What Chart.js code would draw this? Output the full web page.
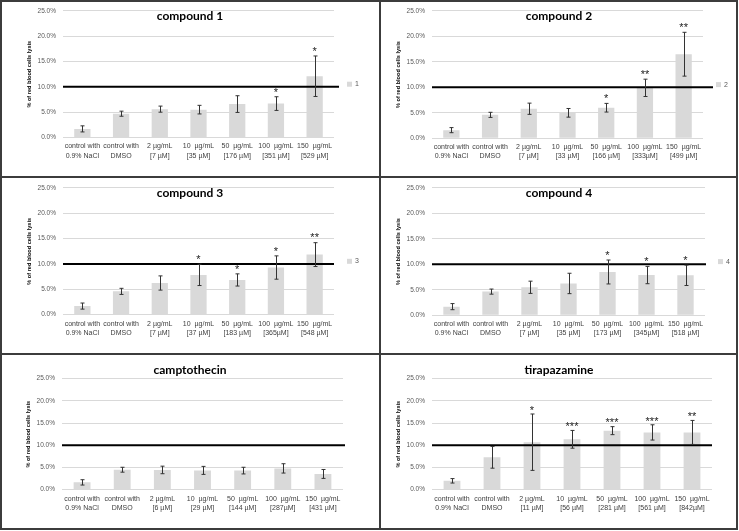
<!DOCTYPE html>
<html>
<head>
<meta charset="utf-8">
<script src="https://cdn.jsdelivr.net/npm/chart.js@4"></script>
<style>
    body { margin: 0; background: #fff; }
    #fig { position: relative; width: 739px; height: 531px; }
    .panel { position: absolute; }
    .line { position: absolute; background: #3c3c3c; }
</style>
</head>
<body>
<div id="fig"></div>
<script>
// data (values in % of red blood cells lysis)
const controls = [['control with', '0.9% NaCl'], ['control with', 'DMSO']];
const doses = ['2 µg/mL', '10  µg/mL', '50  µg/mL', '100  µg/mL', '150  µg/mL'];
const yTicks = [0, 5, 10, 15, 20, 25];
const threshold = 10;

const molar1 = ['[7 µM]', '[35 µM]', '[176 µM]', '[351 µM]', '[529 µM]'];
const mean1 = [1.7, 4.7, 5.6, 5.5, 6.6, 6.7, 12.1];
const err1 = [0.6, 0.5, 0.6, 0.85, 1.65, 1.35, 4.0];
const sig1 = ['', '', '', '', '', '*', '*'];

const molar2 = ['[7 µM]', '[33 µM]', '[166 µM]', '[333µM]', '[499 µM]'];
const mean2 = [1.6, 4.6, 5.8, 5.0, 6.0, 9.9, 16.5];
const err2 = [0.5, 0.5, 1.1, 0.85, 0.85, 1.7, 4.3];
const sig2 = ['', '', '', '', '*', '**', '**'];

const molar3 = ['[7 µM]', '[37 µM]', '[183 µM]', '[365µM]', '[548 µM]'];
const mean3 = [1.7, 4.6, 6.25, 7.85, 6.85, 9.3, 11.85];
const err3 = [0.6, 0.6, 1.4, 2.1, 1.2, 2.3, 2.35];
const sig3 = ['', '', '', '*', '*', '*', '**'];

const molar4 = ['[7 µM]', '[35 µM]', '[173 µM]', '[345µM]', '[518 µM]'];
const mean4 = [1.7, 4.65, 5.5, 6.25, 8.5, 7.9, 7.85];
const err4 = [0.6, 0.5, 1.2, 2.0, 2.35, 1.7, 2.0];
const sig4 = ['', '', '', '', '*', '*', '*'];

const molar5 = ['[6 µM]', '[29 µM]', '[144 µM]', '[287µM]', '[431 µM]'];
const mean5 = [1.65, 4.5, 4.45, 4.35, 4.3, 4.8, 3.55];
const err5 = [0.6, 0.55, 0.85, 0.9, 0.75, 1.05, 1.0];
const sig5 = ['', '', '', '', '', '', ''];

const molar6 = ['[11 µM]', '[56 µM]', '[281 µM]', '[561 µM]', '[842µM]'];
const mean6 = [2.0, 7.3, 10.7, 11.35, 13.3, 12.9, 12.9];
const err6 = [0.5, 2.45, 6.35, 2.0, 0.9, 1.72, 2.7];
const sig6 = ['', '', '*', '***', '***', '***', '**'];

const barColor = '#d9d9d9';
const YW = 40, XH = 30;

// panel boxes and plot areas in page pixels
const panels = [
    { title: 'compound 1', legend: '1', molar: molar1, mean: mean1, err: err1, sig: sig1,
      box: [0, 0, 380, 177], area: [63, 334, 8, 137.5], lineExt: 5 },
    { title: 'compound 2', legend: '2', molar: molar2, mean: mean2, err: err2, sig: sig2,
      box: [380, 0, 358, 177], area: [432, 703, 9, 138.3], lineExt: 10 },
    { title: 'compound 3', legend: '3', molar: molar3, mean: mean3, err: err3, sig: sig3,
      box: [0, 177, 380, 177], area: [63, 334, 185.3, 314.7], lineExt: 0 },
    { title: 'compound 4', legend: '4', molar: molar4, mean: mean4, err: err4, sig: sig4,
      box: [380, 177, 358, 177], area: [432, 705, 186, 315.3], lineExt: 1 },
    { title: 'camptothecin', legend: null, molar: molar5, mean: mean5, err: err5, sig: sig5,
      box: [0, 354, 380, 175], area: [62, 343, 378.7, 489.7], lineExt: 2 },
    { title: 'tirapazamine', legend: null, molar: molar6, mean: mean6, err: err6, sig: sig6,
      box: [380, 354, 358, 175], area: [432, 712, 378.7, 489.7], lineExt: 0 }
];

function buildLabels(molar) {
    return controls.concat(doses.map((d, i) => [d, molar[i]]));
}

// error bars, 10% line, stars, title and legend
function makeExtras(p) {
    return {
        id: 'extras',
        afterDatasetsDraw(chart) {
            const { ctx, chartArea: a, scales: { x, y } } = chart;
            ctx.save();

            let ty = y.getPixelForValue(threshold);
            ctx.strokeStyle = '#000';
            ctx.lineWidth = 2;
            ctx.beginPath();
            ctx.moveTo(a.left, ty);
            ctx.lineTo(a.right + p.lineExt, ty);
            ctx.stroke();

            ctx.strokeStyle = '#333';
            ctx.lineWidth = 1;
            p.mean.forEach((v, i) => {
                let cx = Math.round(x.getPixelForValue(i)) + 0.5;
                let hi = y.getPixelForValue(v + p.err[i]);
                let lo = y.getPixelForValue(v - p.err[i]);
                ctx.beginPath();
                ctx.moveTo(cx, hi); ctx.lineTo(cx, lo);
                ctx.moveTo(cx - 2, hi); ctx.lineTo(cx + 2, hi);
                ctx.moveTo(cx - 2, lo); ctx.lineTo(cx + 2, lo);
                ctx.stroke();
            });

            ctx.fillStyle = '#222';
            ctx.font = '11px "Liberation Sans"';
            ctx.textAlign = 'center';
            ctx.textBaseline = 'alphabetic';
            p.sig.forEach((s, i) => {
                if (!s) return;
                let sy = y.getPixelForValue(p.mean[i] + p.err[i] + 1.5);
                ctx.fillText(s, x.getPixelForValue(i), sy + 6.4);
            });

            ctx.fillStyle = '#000';
            ctx.font = 'bold 12px Lato';
            ctx.textBaseline = 'middle';
            ctx.fillText(p.title, chart.width / 2, 16);

            if (p.legend) {
                let ly = (a.top + a.bottom) / 2 + 10;
                ctx.fillStyle = barColor;
                ctx.fillRect(a.right + 13, ly - 2.5, 5, 5);
                ctx.fillStyle = '#595959';
                ctx.font = '7px "Liberation Sans"';
                ctx.textAlign = 'left';
                ctx.fillText(p.legend, a.right + 21, ly);
            }
            ctx.restore();
        }
    };
}

const fig = document.getElementById('fig');

panels.forEach(p => {
    const [bx, by, bw, bh] = p.box;
    const [L, R, T, B] = p.area;
    let div = document.createElement('div');
    div.className = 'panel';
    div.style.cssText = `left:${bx}px;top:${by}px;width:${bw}px;height:${bh}px`;
    let canvas = document.createElement('canvas');
    div.appendChild(canvas);
    fig.appendChild(div);

    new Chart(canvas, {
        type: 'bar',
        data: {
            labels: buildLabels(p.molar),
            datasets: [{
                label: p.legend || p.title,
                data: p.mean,
                backgroundColor: barColor,
                borderWidth: 0,
                barPercentage: 0.42,
                categoryPercentage: 1
            }]
        },
        options: {
            responsive: true,
            maintainAspectRatio: false,
            animation: false,
            layout: {
                padding: { left: L - bx - YW, right: bx + bw - R, top: T - by, bottom: by + bh - B - XH }
            },
            plugins: {
                legend: { display: false },
                title: { display: false },
                tooltip: { enabled: false }
            },
            scales: {
                x: {
                    grid: { display: false, drawTicks: false },
                    border: { display: false },
                    ticks: {
                        color: '#404040',
                        font: { family: 'Liberation Sans', size: 7, lineHeight: 1.3 },
                        padding: 4.5,
                        maxRotation: 0,
                        minRotation: 0,
                        autoSkip: false
                    },
                    afterFit: s => { s.height = XH; }
                },
                y: {
                    min: yTicks[0],
                    max: yTicks[yTicks.length - 1],
                    grid: { color: '#d9d9d9', drawTicks: false },
                    border: { display: false },
                    ticks: {
                        stepSize: yTicks[1] - yTicks[0],
                        padding: 7,
                        color: '#595959',
                        font: { family: 'Liberation Sans', size: 6.5 },
                        callback: v => v.toFixed(1) + '%'
                    },
                    title: {
                        display: true,
                        text: '% of red blood cells lysis',
                        color: '#000',
                        font: { family: 'Liberation Sans', size: 5.6, weight: 'bold' },
                        padding: { top: 3, bottom: 0 }
                    },
                    afterFit: s => { s.width = YW; }
                }
            }
        },
        plugins: [makeExtras(p)]
    });
});

// table borders
[[0, 0, 738, 2], [0, 528, 738, 2], [0, 0, 2, 530], [736, 0, 2, 530],
 [379, 0, 2, 530], [0, 176, 738, 2], [0, 353, 738, 2]].forEach(([x, y, w, h]) => {
    let l = document.createElement('div');
    l.className = 'line';
    l.style.cssText = `left:${x}px;top:${y}px;width:${w}px;height:${h}px`;
    fig.appendChild(l);
});
</script>
</body>
</html>
